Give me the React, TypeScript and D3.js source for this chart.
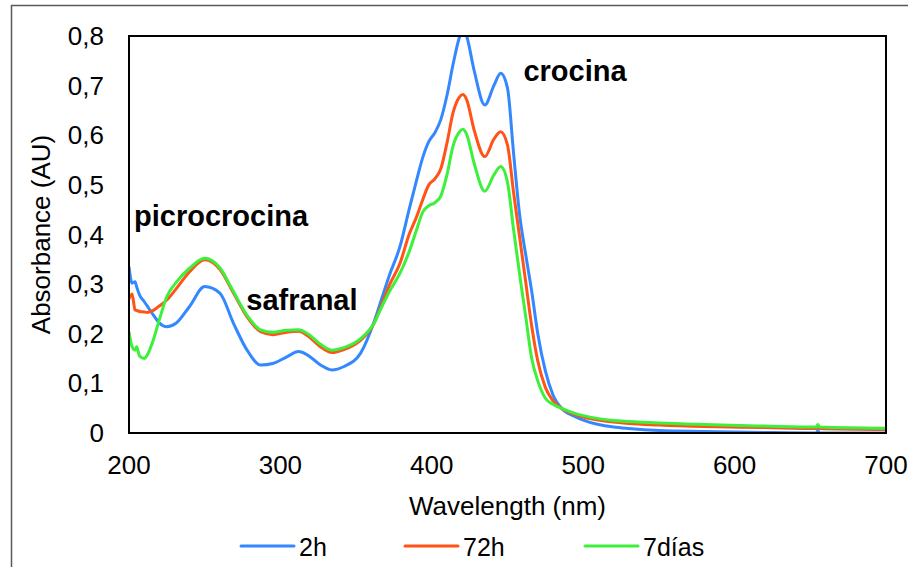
import { useEffect, useRef } from 'react'
import * as d3 from 'd3'

// wavelength grid (nm) shared by the three spectra
const wavelengths = [
  200, 202, 204, 205, 207, 210, 212, 216, 220, 225,
  231, 240, 250, 260, 269, 278, 287, 295, 304, 312,
  318, 326, 334, 342, 353, 362, 366, 372, 379, 385,
  390, 394, 398, 402, 406, 410, 414, 418, 420.5, 423,
  428, 435, 441, 445.5, 450, 454, 458, 462, 466, 470,
  475, 480, 487, 494, 500, 510, 520, 530, 550, 580,
  620, 654, 655, 656, 700,
]

const abs2h = [
  0.335, 0.302, 0.305, 0.295, 0.278, 0.265, 0.256, 0.238, 0.222, 0.214,
  0.221, 0.255, 0.295, 0.282, 0.221, 0.167, 0.137, 0.14, 0.153, 0.164,
  0.157, 0.138, 0.127, 0.134, 0.161, 0.225, 0.262, 0.318, 0.376, 0.45,
  0.51, 0.555, 0.587, 0.605, 0.632, 0.68, 0.742, 0.795, 0.815, 0.8,
  0.73, 0.661, 0.7, 0.725, 0.695, 0.564, 0.44, 0.36, 0.285, 0.2,
  0.125, 0.077, 0.046, 0.034, 0.026, 0.017, 0.012, 0.009, 0.005, 0.003,
  0.001, 0.0, 0.005, 0.0, 0.0,
]

const abs72h = [
  0.27, 0.28, 0.248, 0.247, 0.245, 0.244, 0.243, 0.247, 0.256, 0.268,
  0.29, 0.325, 0.349, 0.33, 0.282, 0.234, 0.204, 0.198, 0.203, 0.205,
  0.196, 0.175, 0.162, 0.168, 0.187, 0.222, 0.252, 0.298, 0.342, 0.4,
  0.436, 0.47, 0.5, 0.512, 0.533, 0.584, 0.645, 0.676, 0.682, 0.672,
  0.61, 0.557, 0.592, 0.607, 0.58, 0.485, 0.395, 0.305, 0.215, 0.145,
  0.092, 0.065, 0.047, 0.038, 0.032, 0.026, 0.022, 0.019, 0.016, 0.013,
  0.011, 0.009, 0.014, 0.009, 0.007,
]

const abs7d = [
  0.204, 0.174, 0.167, 0.174, 0.155, 0.15, 0.157, 0.187, 0.228, 0.275,
  0.303, 0.332, 0.352, 0.333, 0.285, 0.237, 0.208, 0.203, 0.207, 0.208,
  0.2, 0.18, 0.167, 0.172, 0.19, 0.222, 0.248, 0.285, 0.322, 0.365,
  0.41, 0.445, 0.458, 0.464, 0.478, 0.52, 0.578, 0.606, 0.612, 0.602,
  0.543, 0.487, 0.52, 0.537, 0.505, 0.41, 0.32, 0.235, 0.15, 0.105,
  0.07, 0.058, 0.048, 0.04, 0.035, 0.029, 0.025, 0.023, 0.02, 0.017,
  0.014, 0.012, 0.017, 0.012, 0.0095,
]

const seriesNames = ['2h', '72h', '7días']
const seriesColors = ['#3388ff', '#ff5318', '#3cf03c']
const xTicks = [200, 300, 400, 500, 600, 700]
const yTicks = [0, 0.1, 0.2, 0.3, 0.4, 0.5, 0.6, 0.7, 0.8]

const annotations = [
  { text: 'picrocrocina', wl: 203.3, value: 0.418 },
  { text: 'safranal', wl: 277.5, value: 0.248 },
  { text: 'crocina', wl: 460.5, value: 0.71 },
]

const FONT = '"Liberation Sans", Arial, Helvetica, sans-serif'

export default function App() {
  const ref = useRef<SVGSVGElement>(null)

  useEffect(() => {
    const width = 908
    const height = 567
    const plot = { left: 129, right: 886, top: 36, bottom: 433 }

    const svg = d3.select(ref.current)
    svg.selectAll('*').remove()
    svg.attr('viewBox', `0 0 ${width} ${height}`)

    const x = d3.scaleLinear().domain([200, 700]).range([plot.left, plot.right])
    const y = d3.scaleLinear().domain([0, 0.8]).range([plot.bottom, plot.top])

    svg.append('rect').attr('width', width).attr('height', height).attr('fill', '#fff')

    // outer chart border (runs off the right / bottom edge)
    svg.append('rect')
      .attr('x', 11.5).attr('y', 5.5)
      .attr('width', 1000).attr('height', 1000)
      .attr('fill', 'none').attr('stroke', '#595959').attr('stroke-width', 1.5)

    svg.append('clipPath').attr('id', 'plot-clip')
      .append('rect')
      .attr('x', plot.left).attr('y', plot.top)
      .attr('width', plot.right - plot.left).attr('height', plot.bottom - plot.top)

    const series = [abs2h, abs72h, abs7d]
    const line = d3.line<number>()
      .x((_, i) => x(wavelengths[i]))
      .y(d => y(d))
      .curve(d3.curveMonotoneX)

    const lines = svg.append('g').attr('clip-path', 'url(#plot-clip)')
    series.forEach((values, i) => {
      lines.append('path')
        .attr('d', line(values))
        .attr('fill', 'none')
        .attr('stroke', seriesColors[i])
        .attr('stroke-width', 3)
        .attr('stroke-linejoin', 'round')
    })

    // plot frame
    svg.append('rect')
      .attr('x', plot.left).attr('y', plot.top)
      .attr('width', plot.right - plot.left).attr('height', plot.bottom - plot.top)
      .attr('fill', 'none').attr('stroke', '#000').attr('stroke-width', 2)

    const fmt = (v: number) => (v === 0 ? '0' : d3.format('.1f')(v).replace('.', ','))

    svg.append('g').selectAll('text').data(yTicks).join('text')
      .attr('x', plot.left - 25)
      .attr('y', d => y(d))
      .attr('dy', '0.35em')
      .attr('text-anchor', 'end')
      .style('font-family', FONT).style('font-size', '26px')
      .text(d => fmt(d))

    svg.append('g').selectAll('text').data(xTicks).join('text')
      .attr('x', d => x(d))
      .attr('y', plot.bottom + 41)
      .attr('text-anchor', 'middle')
      .style('font-family', FONT).style('font-size', '26px')
      .text(d => String(d))

    svg.append('text')
      .attr('x', (plot.left + plot.right) / 2)
      .attr('y', 515)
      .attr('text-anchor', 'middle')
      .style('font-family', FONT).style('font-size', '26px')
      .text('Wavelength (nm)')

    svg.append('text')
      .attr('transform', `translate(50,${(plot.top + plot.bottom) / 2}) rotate(-90)`)
      .attr('text-anchor', 'middle')
      .style('font-family', FONT).style('font-size', '26px')
      .text('Absorbance (AU)')

    annotations.forEach(a => {
      svg.append('text')
        .attr('x', x(a.wl)).attr('y', y(a.value))
        .style('font-family', FONT).style('font-size', '29px').style('font-weight', 'bold')
        .text(a.text)
    })

    // legend
    const legendX = [241, 405, 585]
    const legend = svg.append('g')
    seriesNames.forEach((name, i) => {
      const g = legend.append('g').attr('transform', `translate(${legendX[i]},546)`)
      g.append('line').attr('x1', 0).attr('x2', 53)
        .attr('stroke', seriesColors[i]).attr('stroke-width', 3).attr('stroke-linecap', 'round')
      g.append('text').attr('x', 58).attr('y', 10)
        .style('font-family', FONT).style('font-size', '25px')
        .text(name)
    })
  }, [])

  return (
    <svg
      ref={ref}
      width={908}
      height={567}
      style={{ position: 'absolute', left: 0, top: 0 }}
    />
  )
}
